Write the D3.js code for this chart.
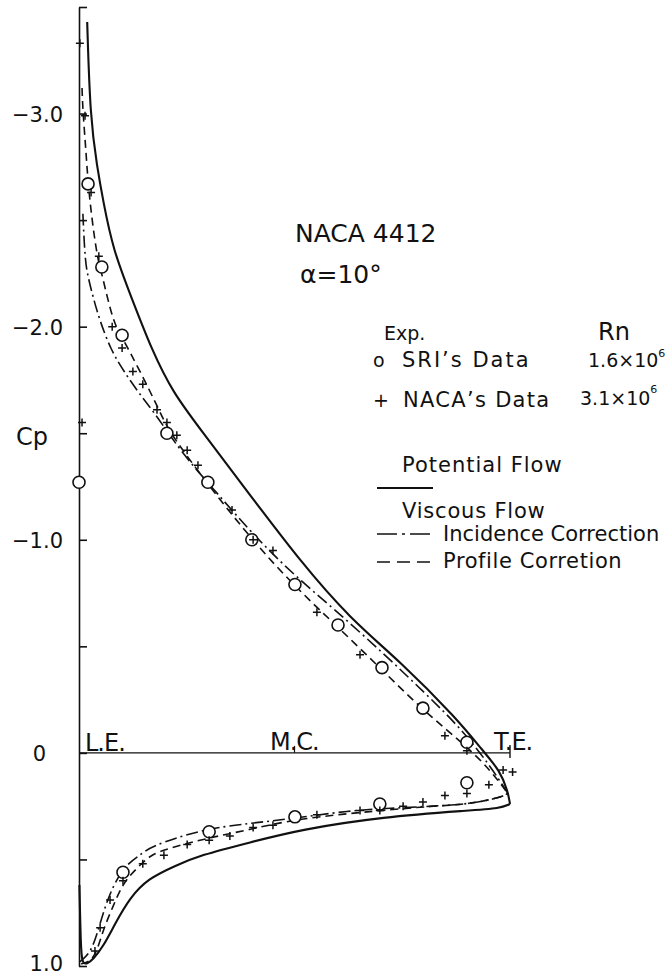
<!DOCTYPE html>
<html>
<head>
<meta charset="utf-8">
<style>
body { margin: 0; background: #fff; }
svg { display: block; font-family: "DejaVu Sans", sans-serif; fill: #111; }
.curve { fill: none; stroke: #111; }
.axis path, .axis line { stroke: #111; stroke-width: 1.6px; }
.axis text { font-size: 21px; font-family: "DejaVu Sans", sans-serif; fill: #111; }
</style>
<script src="https://cdn.jsdelivr.net/npm/d3@7"></script>
</head>
<body>
<svg width="672" height="980"></svg>
<script>
// x/c along chord, Cp values
var potentialUpper = [[0.019,-3.43],[0.026,-2.98],[0.042,-2.75],[0.056,-2.59],[0.079,-2.36],[0.123,-2.13],
  [0.169,-1.89],[0.218,-1.69],[0.281,-1.52],[0.397,-1.21],[0.513,-0.90],[0.629,-0.63],[0.745,-0.43],
  [0.877,-0.16],[0.937,-0.01],[0.977,0.084],[0.995,0.18],[1.0,0.24]];
var potentialLower = [[0.001,0.62],[0.004,0.90],[0.007,0.99],[0.019,0.99],[0.032,0.97],[0.056,0.91],[0.084,0.80],
  [0.118,0.68],[0.160,0.59],[0.223,0.53],[0.281,0.48],[0.397,0.42],[0.513,0.36],[0.705,0.30],
  [0.907,0.27],[0.977,0.26],[1.0,0.24]];

var incidenceUpper = [[0.009,-2.53],[0.014,-2.31],[0.021,-2.23],[0.044,-2.05],[0.074,-1.89],[0.104,-1.79],
  [0.142,-1.68],[0.181,-1.58],[0.241,-1.40],[0.320,-1.22],[0.397,-1.04],[0.490,-0.85],[0.589,-0.68],
  [0.705,-0.47],[0.803,-0.28],[0.884,-0.12],[0.954,0.06],[0.995,0.19]];
var incidenceLower = [[0.002,0.98],[0.026,0.94],[0.042,0.85],[0.056,0.75],[0.079,0.62],[0.111,0.52],
  [0.142,0.48],[0.165,0.44],[0.281,0.36],[0.397,0.33],[0.490,0.31],[0.629,0.27],[0.722,0.26],
  [0.821,0.25],[0.907,0.24],[0.977,0.21],[0.995,0.19]];

var profileUpper = [[0.007,-3.12],[0.009,-3.01],[0.016,-2.83],[0.021,-2.67],[0.032,-2.47],[0.044,-2.31],
  [0.053,-2.25],[0.079,-2.02],[0.100,-1.95],[0.142,-1.79],[0.188,-1.60],[0.211,-1.50],[0.299,-1.26],
  [0.401,-1.00],[0.501,-0.78],[0.601,-0.59],[0.703,-0.39],[0.798,-0.20],[0.900,-0.03],[0.954,0.08],[0.995,0.19]];
var profileLower = [[0.005,0.99],[0.026,0.98],[0.042,0.93],[0.056,0.83],[0.079,0.72],[0.102,0.61],
  [0.135,0.54],[0.165,0.48],[0.204,0.45],[0.297,0.40],[0.397,0.36],[0.501,0.31],[0.698,0.27],
  [0.821,0.25],[0.907,0.24],[0.977,0.21],[0.995,0.19]];

// SRI's data (Rn 1.6e6)
var sriX  = [0.0, 0.021, 0.053, 0.100, 0.204, 0.299, 0.401, 0.501, 0.601, 0.703, 0.798, 0.900,
             0.102, 0.302, 0.501, 0.698, 0.900];
var sriCp = [-1.27, -2.67, -2.28, -1.96, -1.50, -1.27, -1.00, -0.79, -0.60, -0.40, -0.21, -0.05,
             0.56, 0.37, 0.30, 0.24, 0.14];

// NACA's data (Rn 3.1e6)
var nacaX  = [0.002, 0.014, 0.007, 0.028, 0.046, 0.077, 0.100, 0.125, 0.148, 0.181, 0.204, 0.227, 0.251,
              0.276, 0.355, 0.404, 0.450, 0.552, 0.652, 0.849, 0.900, 0.984, 1.006,
              0.951, 0.900, 0.849, 0.798, 0.752, 0.698, 0.652, 0.552, 0.450, 0.404, 0.350, 0.302,
              0.251, 0.197, 0.148, 0.102, 0.072, 0.049, 0.037];
var nacaCp = [-3.33, -2.99, -1.55, -2.63, -2.33, -2.00, -1.90, -1.79, -1.73, -1.61, -1.55, -1.49, -1.42,
              -1.35, -1.14, -1.00, -0.95, -0.66, -0.46, -0.08, -0.01, 0.08, 0.09,
              0.15, 0.19, 0.20, 0.23, 0.25, 0.27, 0.27, 0.29, 0.34, 0.35, 0.39, 0.41,
              0.43, 0.48, 0.52, 0.60, 0.69, 0.82, 0.93];

var cpTicks = [-3.5, -3, -2.5, -2, -1.5, -1, -0.5, 0, 0.5, 1];
var cpLabels = [-3, -2, -1, 0, 1];

var svg = d3.select("svg");

var x = d3.scaleLinear().domain([0, 1]).range([79, 510]);
var y = d3.scaleLinear().domain([-3.5, 1]).range([7, 966]);

// hand-read points are noisy, so smooth with a B-spline
var line = d3.line()
  .x(function(d){ return x(d[0]); })
  .y(function(d){ return y(d[1]); })
  .curve(d3.curveBasis);

/* ---- axis ---- */
var yAxis = d3.axisLeft(y)
  .tickValues(cpTicks)
  .tickSize(-8)
  .tickSizeOuter(0)
  .tickPadding(16)
  .tickFormat(function(v){
    if (cpLabels.indexOf(v) < 0) return "";
    return v === 0 ? "0" : d3.format(".1f")(v).replace("-", "\u2212");
  });

var ax = svg.append("g").attr("class", "axis")
  .attr("transform", "translate(" + x(0) + ",0)")
  .call(yAxis);
ax.selectAll(".tick text")
  .attr("dy", function(v){ return v === 1 ? "0.2em" : "0.36em"; })
  .attr("x", function(v){ return v === 0 ? -33 : -16; });

svg.append("text").attr("x", 16).attr("y", 445)
  .style("font-size", "24px").text("Cp");

/* ---- chord line ---- */
svg.append("line")
  .attr("x1", x(0)).attr("x2", x(1))
  .attr("y1", y(0)).attr("y2", y(0))
  .attr("stroke", "#111").attr("stroke-width", 1.2);
svg.append("line")
  .attr("x1", x(0.5)).attr("x2", x(0.5))
  .attr("y1", y(0) - 7).attr("y2", y(0))
  .attr("stroke", "#111").attr("stroke-width", 1.2);
svg.append("line")
  .attr("x1", x(1)).attr("x2", x(1))
  .attr("y1", y(0) - 8).attr("y2", y(0) + 5)
  .attr("stroke", "#111").attr("stroke-width", 1.4);

svg.append("text").attr("x", 85).attr("y", 751)
  .style("font-size", "24px").style("letter-spacing", "-1px").text("L.E.");
svg.append("text").attr("x", 270).attr("y", 750)
  .style("font-size", "24px").style("letter-spacing", "-1px").text("M.C.");
svg.append("text").attr("x", 494).attr("y", 750)
  .style("font-size", "24px").style("letter-spacing", "-1px").text("T.E.");

/* ---- curves ---- */
var curves = [
  {d: potentialUpper, w: 2.1, dash: null},
  {d: potentialLower, w: 2.1, dash: null},
  {d: incidenceUpper, w: 1.6, dash: "12,4,2,4"},
  {d: incidenceLower, w: 1.6, dash: "12,4,2,4"},
  {d: profileUpper, w: 1.6, dash: "8,5"},
  {d: profileLower, w: 1.6, dash: "8,5"}
];
svg.append("g").selectAll("path")
  .data(curves)
  .enter().append("path")
  .attr("class", "curve")
  .attr("d", function(c){ return line(c.d); })
  .attr("stroke-width", function(c){ return c.w; })
  .attr("stroke-dasharray", function(c){ return c.dash; });

/* ---- data ---- */
svg.append("g").selectAll("circle")
  .data(d3.range(sriX.length))
  .enter().append("circle")
  .attr("cx", function(i){ return x(sriX[i]); })
  .attr("cy", function(i){ return y(sriCp[i]); })
  .attr("r", 6)
  .attr("fill", "#fff").attr("stroke", "#111").attr("stroke-width", 1.6);

svg.append("g").selectAll("path")
  .data(d3.range(nacaX.length))
  .enter().append("path")
  .attr("transform", function(i){ return "translate(" + x(nacaX[i]) + "," + y(nacaCp[i]) + ")"; })
  .attr("d", "M-4,0H4M0,-4V4")
  .attr("stroke", "#111").attr("stroke-width", 1.5);

/* ---- titles and legend ---- */
svg.append("text").attr("x", 295).attr("y", 242).style("font-size", "25px").text("NACA 4412");
svg.append("text").attr("x", 300).attr("y", 283).style("font-size", "25px").text("\u03b1=10\u00b0");

svg.append("text").attr("x", 384).attr("y", 340).style("font-size", "19px").text("Exp.");
svg.append("text").attr("x", 598).attr("y", 340).style("font-size", "24px").text("Rn");

svg.append("text").attr("x", 373).attr("y", 367).style("font-size", "19px").text("o");
svg.append("text").attr("x", 402).attr("y", 367).style("font-size", "21px")
  .style("letter-spacing", "2px").text("SRI\u2019s Data");
var rn1 = svg.append("text").attr("x", 588).attr("y", 367).style("font-size", "19px").text("1.6\u00d710");
rn1.append("tspan").attr("dy", -10).style("font-size", "11px").text("6");

svg.append("text").attr("x", 373).attr("y", 407).style("font-size", "19px").text("+");
svg.append("text").attr("x", 403).attr("y", 407).style("font-size", "21px")
  .style("letter-spacing", "1.3px").text("NACA\u2019s Data");
var rn2 = svg.append("text").attr("x", 580).attr("y", 405).style("font-size", "19px").text("3.1\u00d710");
rn2.append("tspan").attr("dy", -12).style("font-size", "11px").text("6");

svg.append("text").attr("x", 402).attr("y", 472).style("font-size", "21px")
  .style("letter-spacing", "1px").text("Potential Flow");
svg.append("line").attr("x1", 377).attr("x2", 433).attr("y1", 488).attr("y2", 488)
  .attr("stroke", "#111").attr("stroke-width", 2);

svg.append("text").attr("x", 402).attr("y", 518).style("font-size", "21px")
  .style("letter-spacing", "0.8px").text("Viscous Flow");
svg.append("line").attr("x1", 377).attr("x2", 433).attr("y1", 534).attr("y2", 534)
  .attr("stroke", "#111").attr("stroke-width", 1.6).attr("stroke-dasharray", "20,5,3,5");
svg.append("text").attr("x", 443).attr("y", 541).style("font-size", "21px").text("Incidence Correction");
svg.append("line").attr("x1", 377).attr("x2", 433).attr("y1", 562).attr("y2", 562)
  .attr("stroke", "#111").attr("stroke-width", 1.6).attr("stroke-dasharray", "13,7");
svg.append("text").attr("x", 443).attr("y", 568).style("font-size", "21px")
  .style("letter-spacing", "0.6px").text("Profile Corretion");
</script>
</body>
</html>
